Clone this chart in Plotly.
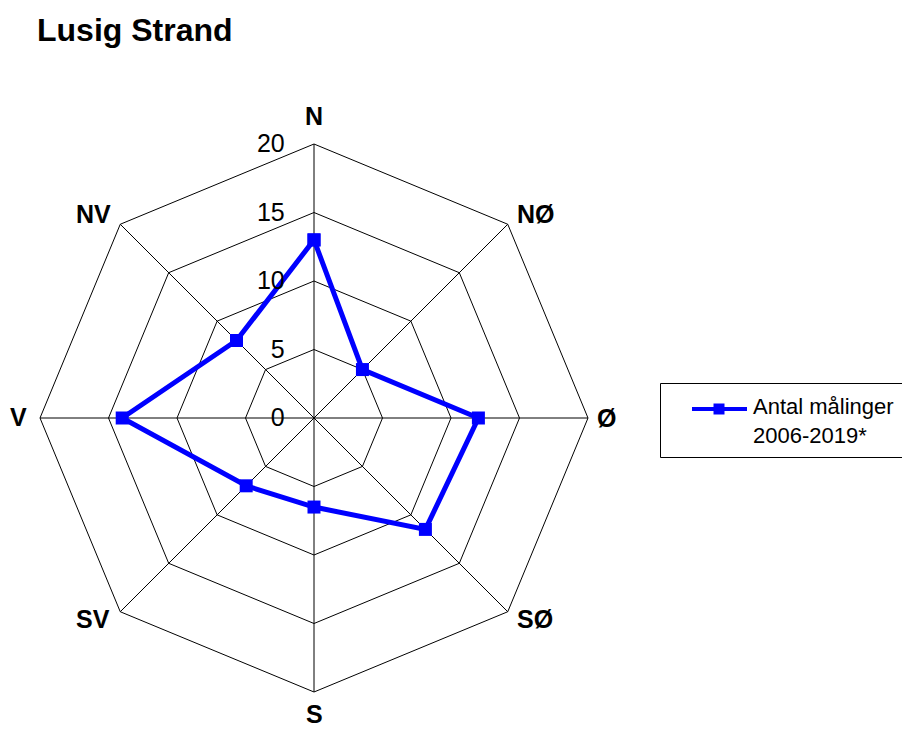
import plotly.graph_objects as go

directions = ["N", "NØ", "Ø", "SØ", "S", "SV", "V", "NV"]
counts = [13, 5, 12, 11.5, 6.5, 7, 14, 8]
radial_ticks = [0, 5, 10, 15, 20]
series_name = "Antal målinger<br>2006-2019*"
title_text = "Lusig Strand"

W, H = 910, 729
OFF = 8  # page body margin
cx, cy, R = 314, 418, 274

FONT = "Arial, Liberation Sans, sans-serif"

# pixel centres of the direction labels around the polygon
label_pos = {
    "N": (314, 116), "NØ": (536, 214), "Ø": (606, 418), "SØ": (535, 619),
    "S": (314, 714), "SV": (93, 619), "V": (18, 417), "NV": (93, 214),
}

fig = go.Figure()
fig.add_trace(go.Scatterpolar(
    r=counts + counts[:1],
    theta=directions + directions[:1],
    mode="lines+markers",
    line=dict(color="#0000FF", width=5),
    marker=dict(symbol="square", size=13, color="#0000FF"),
    name=series_name,
    showlegend=False,
))

def px_x(x):
    return (x - OFF) / W

def px_y(y):
    return (H - (y - OFF)) / H

shapes = [
    dict(type="line", xref="paper", yref="paper",
         x0=px_x(cx - R), x1=px_x(cx + R), y0=px_y(cy), y1=px_y(cy),
         line=dict(color="#808080", width=1.5), layer="below"),
    dict(type="rect", xref="paper", yref="paper",
         x0=px_x(660.5), x1=px_x(925), y0=px_y(383.5), y1=px_y(457.5),
         line=dict(color="#000000", width=1), fillcolor="rgba(0,0,0,0)"),
    dict(type="line", xref="paper", yref="paper",
         x0=px_x(692), x1=px_x(747), y0=px_y(409), y1=px_y(409),
         line=dict(color="#0000FF", width=4)),
    dict(type="rect", xref="paper", yref="paper",
         x0=px_x(713.5), x1=px_x(724.5), y0=px_y(403.5), y1=px_y(414.5),
         line=dict(width=0), fillcolor="#0000FF"),
]

annotations = [
    dict(text=series_name, xref="paper", yref="paper",
         x=px_x(751), y=px_y(421), xanchor="left", yanchor="middle",
         align="left", showarrow=False,
         font=dict(family=FONT, size=22, color="#000000")),
]
for d in directions:
    lx, ly = label_pos[d]
    annotations.append(dict(
        text="<b>" + d + "</b>", xref="paper", yref="paper",
        x=px_x(lx), y=px_y(ly), xanchor="center", yanchor="middle",
        showarrow=False, font=dict(family=FONT, size=25, color="#000000")))

fig.update_layout(
    width=W, height=H,
    margin=dict(l=0, r=0, t=0, b=0),
    paper_bgcolor="white",
    font=dict(family=FONT, color="#000000"),
    title=dict(text="<b>" + title_text + "</b>", x=px_x(37), xanchor="left",
               xref="paper", y=px_y(30), yanchor="middle", yref="container",
               font=dict(family=FONT, size=32, color="#000000")),
    shapes=shapes,
    annotations=annotations,
    polar=dict(
        domain=dict(x=[px_x(cx - R), px_x(cx + R)], y=[px_y(cy + R), px_y(cy - R)]),
        bgcolor="white",
        gridshape="linear",
        radialaxis=dict(
            range=[0, 20], tickvals=radial_ticks, ticktext=[str(v) for v in radial_ticks],
            angle=90, side="counterclockwise", tickangle=90,
            showline=False, showgrid=True, gridcolor="#000000", gridwidth=1,
            ticks="outside", ticklen=20, tickcolor="rgba(0,0,0,0)",
            tickfont=dict(family=FONT, size=25, color="#000000"),
        ),
        angularaxis=dict(
            direction="clockwise", rotation=90,
            categoryorder="array", categoryarray=directions,
            showline=True, linecolor="#000000", linewidth=1,
            showgrid=True, gridcolor="#000000", gridwidth=1,
            ticks="", showticklabels=False,
        ),
    ),
)

fig.write_html("out.html")
